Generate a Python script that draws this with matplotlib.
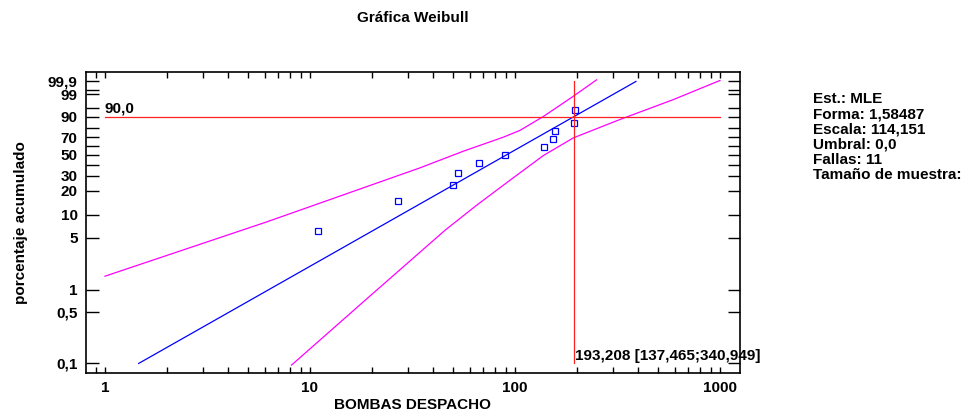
import numpy as np
import matplotlib
matplotlib.use("Agg")
import matplotlib.pyplot as plt
from matplotlib.ticker import FixedLocator, FixedFormatter, NullLocator, NullFormatter

plt.rcParams["font.family"] = ["Liberation Sans", "DejaVu Sans"]
plt.rcParams["font.weight"] = "bold"
plt.rcParams["axes.labelweight"] = "bold"
plt.rcParams["font.size"] = 11

# ---------------------------------------------------------------------------
# Datos
# ---------------------------------------------------------------------------
# observaciones (tiempo) y rango mediano (%)
obs_x = [11, 27, 50, 53, 67, 89, 139, 153, 156, 194, 196]
obs_p = [6.14, 15.0, 23.7, 32.5, 41.2, 50.0, 58.8, 67.5, 76.3, 85.0, 93.9]

# recta ajustada (extremos)
fit_x = [1.46, 389]
fit_p = [0.1, 99.9]

# banda de confianza superior
up_x = [1.0, 6.15, 34.4, 56.0, 87.7, 105.8, 137.5, 192.5, 250.0]
up_p = [1.53, 8.11, 36.9, 54.0, 70.0, 77.5, 90.0, 98.7, 99.93]

# banda de confianza inferior
lo_x = [8.13, 19.2, 45.6, 65.0, 94.5, 137.5, 192.5, 325, 592, 1000]
lo_p = [0.095, 0.783, 6.31, 13.3, 26.8, 49.2, 69.2, 87.7, 98.0, 99.92]

# percentil 90
pct = 90.0
pct_x = 193.208
pct_txt = "193,208 [137,465;340,949]"

ytick_vals = [0.1, 0.5, 1, 5, 10, 20, 30, 40, 50, 60, 70, 80, 90, 95, 99, 99.5, 99.9]
ytick_lbls = ["0,1", "0,5", "1", "5", "10", "20", "30", "", "50", "", "70", "", "90", "", "99", "", "99,9"]
xtick_vals = [1, 10, 100, 1000]
xtick_lbls = ["1", "10", "100", "1000"]

info = ["Est.: MLE", "Forma: 1,58487", "Escala: 114,151", "Umbral: 0,0",
        "Fallas: 11", "Tamaño de muestra:"]


# escala Weibull para el eje y (en %)
def fwd(p):
    p = np.clip(np.asarray(p, dtype=float), 1e-6, 100 - 1e-9)
    return np.log(-np.log(1 - p / 100.0))


def inv(y):
    return 100.0 * (1 - np.exp(-np.exp(y)))


# ---------------------------------------------------------------------------
# Figura
# ---------------------------------------------------------------------------
fig = plt.figure(figsize=(9.73, 4.17), dpi=100)
ax = fig.add_axes([86 / 973, 1 - 373 / 417, (740 - 86) / 973, (373 - 72) / 417])
ax.set_xscale("log")
ax.set_yscale("function", functions=(fwd, inv))

ax.plot(up_x, up_p, color="#ff00ff", lw=0.9)
ax.plot(lo_x, lo_p, color="#ff00ff", lw=0.9)
ax.plot(fit_x, fit_p, color="#0000ff", lw=0.9)
ax.plot(obs_x, obs_p, "s", mfc="none", mec="#0000ff", ms=3.8, mew=0.9)

ax.plot([1, 1000], [pct, pct], color="#ff2020", lw=0.9)
ax.plot([pct_x, pct_x], [0.1, 99.9], color="#ff2020", lw=0.9)
ax.text(1.0, pct + 0.6, "90,0", ha="left", va="bottom")
ax.text(pct_x * 1.01, 0.1, pct_txt, ha="left", va="bottom")

ax.set_xlim(0.808, 1252)
ax.set_ylim(0.0741, 99.9908)

ax.yaxis.set_major_locator(FixedLocator(ytick_vals))
ax.yaxis.set_major_formatter(FixedFormatter(ytick_lbls))
ax.yaxis.set_minor_locator(NullLocator())
ax.xaxis.set_major_locator(FixedLocator(xtick_vals))
ax.xaxis.set_major_formatter(FixedFormatter(xtick_lbls))
ax.xaxis.set_minor_formatter(NullFormatter())

ax.tick_params(axis="both", which="both", direction="in", top=True, right=True,
               width=1.0, colors="black")
ax.tick_params(axis="x", which="both", length=4.5, pad=6)
ax.tick_params(axis="y", which="both", length=9, pad=6)
for sp in ax.spines.values():
    sp.set_linewidth(1.2)

ax.set_xlabel("BOMBAS DESPACHO", labelpad=2)
ax.set_ylabel("porcentaje acumulado", labelpad=14)

fig.text(413 / 973, 1 - 18 / 417, "Gráfica Weibull", ha="center", va="center")

for i, line in enumerate(info):
    fig.text(813 / 973, 1 - (99 + i * 15.2) / 417, line, ha="left", va="center")

fig.savefig("out.png", dpi=100, facecolor="white")
